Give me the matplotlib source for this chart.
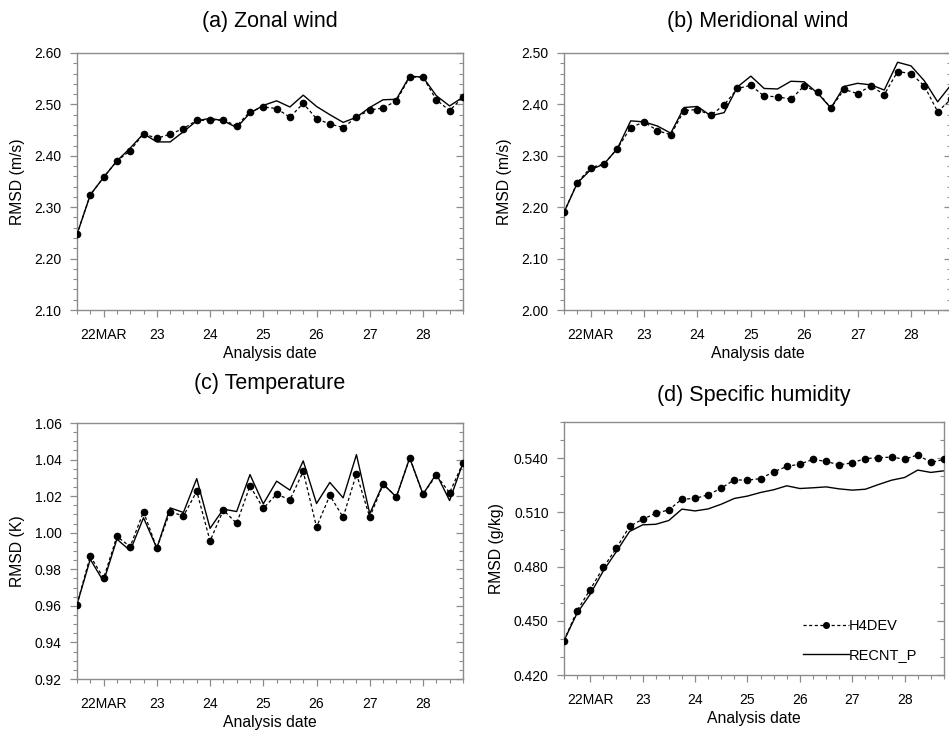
import matplotlib
matplotlib.use("Agg")
import numpy as np
from matplotlib import pyplot as plt
from matplotlib.ticker import MultipleLocator, FixedLocator

plt.rcParams['font.family'] = ['Liberation Sans', 'DejaVu Sans']

# analysis times: 21 Mar 12Z to 28 Mar 18Z, every 6 h (in days of March)
days = [21.5 + 0.25 * i for i in range(30)]
day_ticks = [22, 23, 24, 25, 26, 27, 28]
day_labels = ["22MAR", "23", "24", "25", "26", "27", "28"]

u_h4dev = [2.247, 2.324, 2.358, 2.390, 2.410, 2.443, 2.434, 2.442, 2.453, 2.469,
           2.469, 2.470, 2.458, 2.486, 2.495, 2.492, 2.475, 2.502, 2.472, 2.462,
           2.455, 2.475, 2.489, 2.493, 2.507, 2.553, 2.553, 2.509, 2.488, 2.514]
u_recnt = [2.247, 2.324, 2.358, 2.390, 2.415, 2.443, 2.427, 2.427, 2.447, 2.468,
           2.473, 2.468, 2.455, 2.483, 2.498, 2.507, 2.495, 2.518, 2.496, 2.480,
           2.465, 2.475, 2.494, 2.509, 2.510, 2.555, 2.553, 2.517, 2.497, 2.514]

v_h4dev = [2.190, 2.248, 2.277, 2.284, 2.314, 2.355, 2.366, 2.349, 2.341, 2.388,
           2.390, 2.379, 2.399, 2.431, 2.437, 2.416, 2.415, 2.410, 2.436, 2.424,
           2.393, 2.429, 2.421, 2.436, 2.419, 2.464, 2.460, 2.436, 2.386, 2.410]
v_recnt = [2.190, 2.247, 2.273, 2.284, 2.314, 2.368, 2.366, 2.358, 2.344, 2.394,
           2.396, 2.378, 2.384, 2.434, 2.455, 2.431, 2.430, 2.445, 2.444, 2.422,
           2.393, 2.435, 2.441, 2.438, 2.428, 2.482, 2.475, 2.446, 2.405, 2.438]

t_h4dev = [0.9607, 0.9873, 0.9751, 0.9980, 0.9924, 1.0115, 0.9916, 1.0116, 1.0091, 1.0227,
           0.9955, 1.0124, 1.0051, 1.0256, 1.0133, 1.0211, 1.0180, 1.0335, 1.0031, 1.0204,
           1.0085, 1.0322, 1.0085, 1.0264, 1.0198, 1.0409, 1.0211, 1.0315, 1.0218, 1.0382]
t_recnt = [0.9607, 0.9855, 0.9733, 0.9965, 0.9902, 1.0082, 0.9916, 1.0136, 1.0111, 1.0296,
           1.0024, 1.0129, 1.0116, 1.0318, 1.0158, 1.0282, 1.0233, 1.0393, 1.0160, 1.0275,
           1.0191, 1.0427, 1.0104, 1.0267, 1.0195, 1.0409, 1.0211, 1.0322, 1.0176, 1.0382]

q_h4dev = [0.4390, 0.4556, 0.4673, 0.4795, 0.4902, 0.5022, 0.5062, 0.5094, 0.5114, 0.5173,
           0.5177, 0.5197, 0.5234, 0.5280, 0.5278, 0.5287, 0.5324, 0.5354, 0.5367, 0.5393,
           0.5382, 0.5363, 0.5374, 0.5398, 0.5402, 0.5406, 0.5394, 0.5418, 0.5376, 0.5393]
q_recnt = [0.4390, 0.4542, 0.4647, 0.4776, 0.4883, 0.4994, 0.5031, 0.5034, 0.5055, 0.5118,
           0.5108, 0.5119, 0.5145, 0.5177, 0.5190, 0.5210, 0.5225, 0.5247, 0.5232, 0.5236,
           0.5241, 0.5230, 0.5223, 0.5228, 0.5254, 0.5278, 0.5293, 0.5334, 0.5321, 0.5330]

fig = plt.figure(figsize=(9.49, 7.31), dpi=100)

panels = [
    # rect, title, title y, h4dev, recnt, ylabel, ylim, major, minor, fmt
    ([0.0811, 0.5759, 0.4067, 0.3516], "(a) Zonal wind", 0.970, u_h4dev, u_recnt,
     "RMSD (m/s)", (2.10, 2.60), 0.10, 0.02, "%.2f"),
    ([0.5943, 0.5759, 0.4078, 0.3516], "(b) Meridional wind", 0.970, v_h4dev, v_recnt,
     "RMSD (m/s)", (2.00, 2.50), 0.10, 0.02, "%.2f"),
    ([0.0811, 0.0711, 0.4067, 0.3502], "(c) Temperature", 0.476, t_h4dev, t_recnt,
     "RMSD (K)", (0.92, 1.06), 0.02, 0.005, "%.2f"),
    ([0.5943, 0.0766, 0.4004, 0.3461], "(d) Specific humidity", 0.459, q_h4dev, q_recnt,
     "RMSD (g/kg)", (0.42, 0.56), 0.03, 0.01, "%.3f"),
]

spine_col = "#8c8c8c"
for i, (rect, title, ty, h4, rec, ylab, ylim, major, minor, fmt) in enumerate(panels):
    ax = fig.add_axes(rect)
    ax.plot(days, h4, color="black", lw=0.9, ls=(0, (2.5, 2)), marker="o", ms=4.5,
            label="H4DEV", zorder=3)
    ax.plot(days, rec, color="black", lw=1.0, ls="-", label="RECNT_P", zorder=2)
    ax.set_xlim(21.5, 28.75)
    ax.set_ylim(*ylim)
    ax.xaxis.set_major_locator(FixedLocator(day_ticks))
    ax.set_xticklabels(day_labels)
    ax.xaxis.set_minor_locator(MultipleLocator(0.25))
    ax.yaxis.set_major_locator(MultipleLocator(major))
    ax.yaxis.set_minor_locator(MultipleLocator(minor))
    ax.yaxis.set_major_formatter(matplotlib.ticker.FormatStrFormatter(fmt))
    if i == 3:
        ax.set_yticks([0.42, 0.45, 0.48, 0.51, 0.54])
    for s in ax.spines.values():
        s.set_color(spine_col)
        s.set_linewidth(1.0)
    ax.tick_params(axis="both", which="major", direction="out", length=5, width=0.9,
                   color=spine_col, labelsize=10, pad=6)
    ax.tick_params(axis="both", which="minor", direction="out", length=3, width=0.8,
                   color=spine_col)
    ax.tick_params(axis="x", which="major", pad=8)
    ax.tick_params(axis="y", right=True, which="both", labelright=False)
    ax.set_xlabel("Analysis date", fontsize=11.3, labelpad=3)
    ax.set_ylabel(ylab, fontsize=11.3, labelpad=7)
    # mirrored ticks on the right side point inward
    for t in ax.yaxis.get_major_ticks() + ax.yaxis.get_minor_ticks():
        t.tick2line.set_marker(matplotlib.lines.TICKLEFT)
    fig.text(rect[0] + rect[2] / 2, ty, title, ha="center", va="center", fontsize=15.5)
    if i == 3:
        ax.legend(loc="lower right", bbox_to_anchor=(0.965, 0.0), frameon=False,
                  fontsize=10.5, handlelength=3.2, handletextpad=0.0,
                  labelspacing=1.0, markerscale=0.9)

fig.savefig("out.png", dpi=100)
